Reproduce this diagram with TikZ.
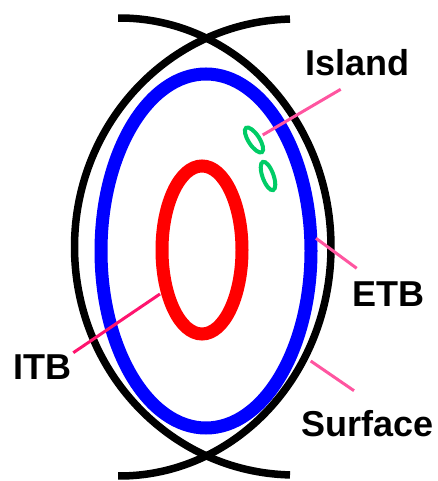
\documentclass[tikz,border=0pt]{standalone}
\usepackage{fontspec}
\setmainfont{Liberation Sans}
\definecolor{pinkA}{RGB}{255,85,160}
\definecolor{pinkB}{RGB}{255,20,110}
\definecolor{greenI}{RGB}{0,204,102}
\tikzset{
  bound/.style={draw=black,line width=7.5pt},
  etbline/.style={draw=blue,line width=13pt},
  itbline/.style={draw=red,line width=13pt},
  isl/.style={draw=greenI,line width=4pt},
  lead/.style={draw=pinkA,line width=3pt},
  leadB/.style={draw=pinkB,line width=3pt},
  lbl/.style={inner sep=0pt,anchor=base west,font=\fontsize{36}{43}\selectfont\bfseries}
}
\begin{document}
\begin{tikzpicture}[x=1pt,y=1pt]
\useasboundingbox (0,0) rectangle (438,481);
% separatrix-like arcs
\draw[bound] (295,234) ++(91.3:220.5 and 228) arc[start angle=91.3,end angle=268.7,x radius=220.5,y radius=228];
\draw[bound] (119.6,234) ++(90.4:211.4 and 229) arc[start angle=90.4,end angle=-90.4,x radius=211.4,y radius=229];
% ETB and ITB
\draw[etbline] (206,230) ellipse[x radius=105,y radius=177];
\draw[itbline] (202,231) ellipse[x radius=40,y radius=84];
% islands
\draw[isl] (254,341) ellipse[x radius=14.5,y radius=5.5,rotate=-57];
\draw[isl] (268,305) ellipse[x radius=15,y radius=5.5,rotate=-70];
% labels
\node[lbl] (island) at (305,405) {Island};
\node[lbl] (etb) at (352,174.3) {ETB};
\node[lbl] (itb) at (13,101.7) {ITB};
\node[lbl] (surface) at (301,44.3) {Surface};
% leader coordinates
\coordinate (islA) at (262.7,346);
\coordinate (islB) at (340.7,391.7);
\coordinate (etbA) at (316,242.7);
\coordinate (etbB) at (356.7,212.7);
\coordinate (surA) at (310.7,120);
\coordinate (surB) at (354,90.3);
\coordinate (itbA) at (160,187);
\coordinate (itbB) at (73.3,128.3);
\draw[lead] (islA) -- (islB);
\draw[lead] (etbA) -- (etbB);
\draw[lead] (surA) -- (surB);
\draw[leadB] (itbA) -- (itbB);
\end{tikzpicture}
\end{document}
